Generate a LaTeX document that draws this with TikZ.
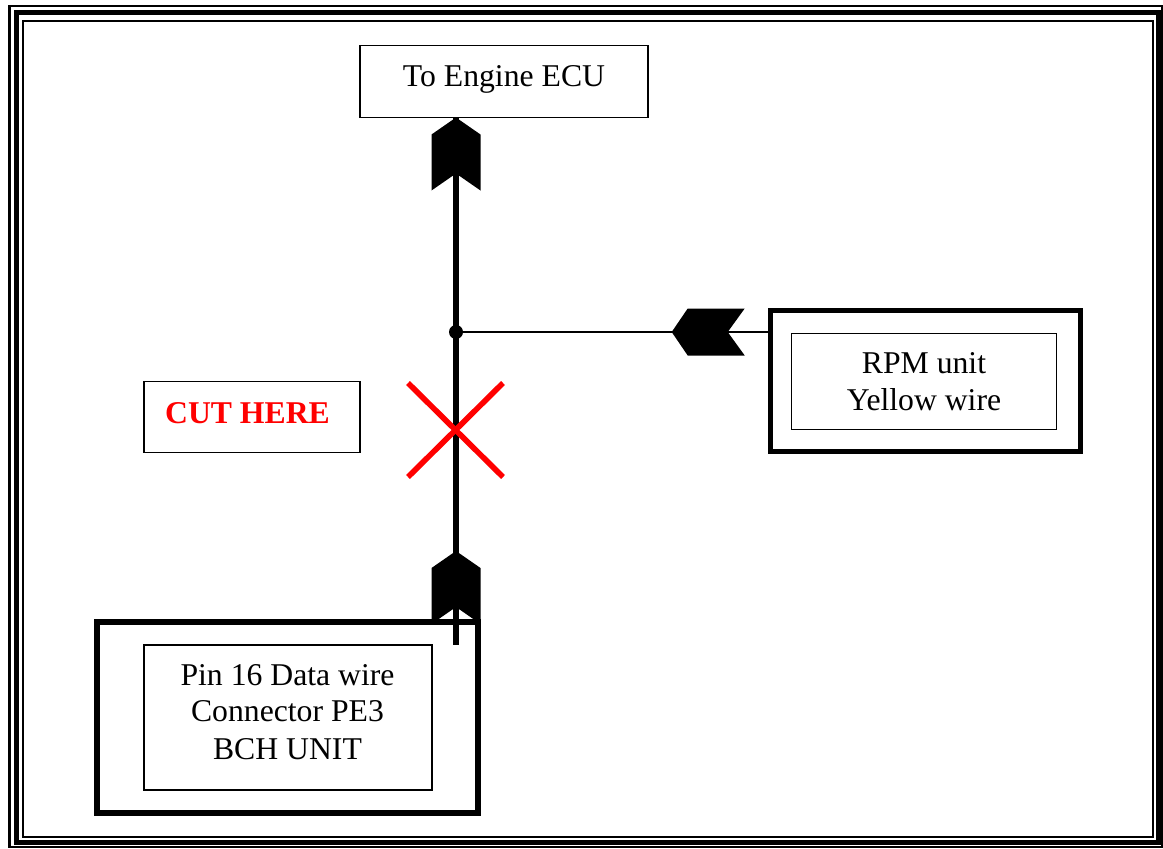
\documentclass[tikz,border=0pt]{standalone}
\usepackage{fontspec}
\setmainfont{Liberation Serif}
\begin{document}
\begin{tikzpicture}[x=1pt,y=-1pt,
  thinbox/.style={draw, line width=1.4pt, inner sep=0pt, outer sep=0pt},
  thickbox/.style={draw, line width=5pt, inner sep=0pt, outer sep=0pt},
  lbl/.style={anchor=base, inner sep=0pt, font=\fontsize{31.7}{36.7}\selectfont},
  wire/.style={line width=5.4pt},
  tapwire/.style={line width=2.2pt},
  cutline/.style={draw=red, line width=5.6pt},
  chevup/.pic={\fill (0,0) -- (24.5,17) -- (24.5,73) -- (0,56) -- (-24.5,73) -- (-24.5,17) -- cycle;},
  chevleft/.pic={\fill (0,0) -- (16,-23.5) -- (73,-23.5) -- (56,0) -- (73,23.5) -- (16,23.5) -- cycle;}]
\useasboundingbox (0,0) rectangle (1163,849);
% frame
\draw[line width=2.8pt] (9.5,6) rectangle (1162,847);
\draw[line width=5pt] (16.5,12.5) rectangle (1158,842);
\draw[line width=2.2pt] (23,21) rectangle (1153,837);
% boxes
\node[thinbox, minimum width=288pt, minimum height=72pt] (ecu) at (503.8,81.5) {};
\node[lbl] (ecut) at (504,86.7) {To Engine ECU};
\node[thinbox, minimum width=216pt, minimum height=71pt] (cut) at (252,417) {};
\node[lbl, text=red, font=\fontsize{31.7}{36.7}\selectfont\bfseries] (cutt) at (247.5,423.3) {CUT HERE};
\node[thickbox, line width=5pt, minimum width=310pt, minimum height=141pt] (rpmo) at (925,380.5) {};
\node[thinbox, minimum width=265pt, minimum height=96pt] (rpmi) at (924,381.5) {};
\node[lbl] (rpm1) at (924,373.3) {RPM unit};
\node[lbl] (rpm2) at (924,410) {Yellow wire};
\coordinate (jn) at (456,332);
\coordinate (wend) at (456,645);
\coordinate (bottip) at (456,551);
% wires
\draw[wire] (ecu.south -| jn) -- (wend);
\draw[tapwire] (jn) -- (rpmo.west |- jn);
\fill (jn) circle (7pt);
\pic at (ecu.south -| jn) {chevup};
\pic at (bottip) {chevup};
\pic at (671.7,332) {chevleft};
% BCH boxes
\node[thickbox, line width=6pt, minimum width=381pt, minimum height=191pt] (bcho) at (287,717) {};
\node[thinbox, minimum width=288pt, minimum height=145pt] (bchi) at (288,717.5) {};
\node[lbl] (bch1) at (287.5,685) {Pin 16 Data wire};
\node[lbl] (bch2) at (287.5,721.7) {Connector PE3};
\node[lbl] (bch3) at (287.5,759.3) {BCH UNIT};
% cut mark
\coordinate (xa) at (408,383);
\coordinate (xb) at (503,477);
\coordinate (xc) at (503,383);
\coordinate (xd) at (408,477);
\draw[cutline] (xa) -- (xb);
\draw[cutline] (xc) -- (xd);
\end{tikzpicture}
\end{document}
